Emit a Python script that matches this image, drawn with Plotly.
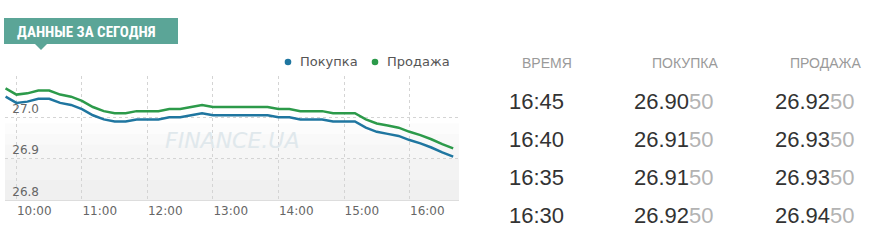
import plotly.graph_objects as go

W, H = 878, 243

# ---------------- data ----------------
times = ["09:50", "10:00", "10:10", "10:20", "10:30", "10:40", "10:50",
         "11:00", "11:10", "11:20", "11:30", "11:40", "11:50",
         "12:00", "12:10", "12:20", "12:30", "12:40", "12:50",
         "13:00", "13:10", "13:20", "13:30", "13:40", "13:50",
         "14:00", "14:10", "14:20", "14:30", "14:40", "14:50",
         "15:00", "15:10", "15:20", "15:30", "15:40", "15:50",
         "16:00", "16:10", "16:20", "16:30", "16:40"]
buy = [27.050, 27.035, 27.038, 27.045, 27.045, 27.035, 27.030,
       27.020, 27.005, 26.995, 26.990, 26.990, 26.995,
       26.995, 26.995, 27.000, 27.000, 27.005, 27.010,
       27.005, 27.005, 27.005, 27.005, 27.005, 27.005,
       27.000, 27.000, 26.995, 26.995, 26.995, 26.990,
       26.990, 26.990, 26.975, 26.965, 26.960, 26.955,
       26.945, 26.937, 26.927, 26.915, 26.905]
sell = [27.070, 27.055, 27.058, 27.065, 27.065, 27.055, 27.050,
        27.040, 27.025, 27.015, 27.010, 27.010, 27.015,
        27.015, 27.015, 27.020, 27.020, 27.025, 27.030,
        27.025, 27.025, 27.025, 27.025, 27.025, 27.025,
        27.020, 27.020, 27.015, 27.015, 27.015, 27.010,
        27.010, 27.010, 26.995, 26.985, 26.980, 26.975,
        26.965, 26.957, 26.947, 26.935, 26.925]

x_ticks = ["10:00", "11:00", "12:00", "13:00", "14:00", "15:00", "16:00"]
y_ticks = [26.8, 26.9, 27.0, 27.1]
y_ticktext = ["26.8", "26.9", "27.0", ""]

table_times = ["16:45", "16:40", "16:35", "16:30"]
table_buy = ["26.9050", "26.9150", "26.9150", "26.9250"]
table_sell = ["26.9250", "26.9350", "26.9350", "26.9450"]
headers = ["ВРЕМЯ", "ПОКУПКА", "ПРОДАЖА"]
series_names = ["Покупка", "Продажа"]
title_text = "ДАННЫЕ ЗА СЕГОДНЯ"
watermark = "FINANCE.UA"

DAY = "2024-01-01 "
xs = [DAY + t for t in times]

BLUE = "#1f76a0"
GREEN = "#2c9a4a"
TEAL = "#5ba597"


def px(x):
    return x / W


def py(y):
    return 1 - y / H


fig = go.Figure()

fig.add_trace(go.Scatter(x=xs, y=buy, mode="lines", name=series_names[0],
                         line=dict(color=BLUE, width=2.5), showlegend=False,
                         hoverinfo="skip"))
fig.add_trace(go.Scatter(x=xs, y=sell, mode="lines", name=series_names[1],
                         line=dict(color=GREEN, width=2.5), showlegend=False,
                         hoverinfo="skip"))

shapes = []
# background gradient bands (light gray toward the bottom)
bands = [(26.96, 26.985, "#fcfcfc"), (26.935, 26.96, "#f9f9f9"),
         (26.9, 26.935, "#f6f6f6"), (26.85, 26.9, "#f3f3f3"),
         (26.8, 26.85, "#f0f0f0")]
for y0, y1, c in bands:
    shapes.append(dict(type="rect", xref="x domain", yref="y", x0=0, x1=1,
                       y0=y0, y1=y1, fillcolor=c, line=dict(width=0),
                       layer="below"))
# title box
shapes.append(dict(type="rect", xref="paper", yref="paper",
                   x0=px(4), x1=px(178), y0=py(44), y1=py(18),
                   fillcolor=TEAL, line=dict(width=0)))
shapes.append(dict(type="path", xref="paper", yref="paper",
                   path=f"M {px(35)},{py(44)} L {px(47)},{py(44)} L {px(41)},{py(50)} Z",
                   fillcolor=TEAL, line=dict(width=0)))

# legend (dots + labels)
legend_items = [(series_names[0], BLUE, 288, 298), (series_names[1], GREEN, 375, 385)]
annotations = []
for name, col, dot_x, text_x in legend_items:
    shapes.append(dict(type="circle", xref="paper", yref="paper",
                       x0=px(dot_x - 3.3), x1=px(dot_x + 3.3),
                       y0=py(62 + 3.3), y1=py(62 - 3.3),
                       fillcolor=col, line=dict(width=0)))
    annotations.append(dict(xref="paper", yref="paper", x=px(text_x), y=py(62),
                            xanchor="left", yanchor="middle", showarrow=False,
                            text=name, font=dict(family="DejaVu Sans", size=13,
                                                 color="#555555")))

annotations.append(dict(xref="paper", yref="paper", x=px(15), y=py(31.5),
                        xanchor="left", yanchor="middle", showarrow=False,
                        text="<b>" + title_text + "</b>",
                        font=dict(family="Liberation Sans Narrow, Roboto Condensed, Roboto",
                                  size=15, color="white")))
annotations.append(dict(xref="paper", yref="paper", x=px(232), y=py(140),
                        xanchor="center", yanchor="middle", showarrow=False,
                        text=watermark,
                        font=dict(family="DejaVu Sans", size=22, color="#e0e8ec",
                                  style="italic")))

# table
header_cx = [546.5, 685, 825]
for h, cx in zip(headers, header_cx):
    annotations.append(dict(xref="paper", yref="paper", x=px(cx), y=py(63),
                            xanchor="center", yanchor="middle", showarrow=False,
                            text=h, font=dict(family="Liberation Sans", size=14,
                                              color="#9a9a9a")))
row_cy = [101.7, 139.5, 177.3, 215]
for t, b, s, cy in zip(table_times, table_buy, table_sell, row_cy):
    annotations.append(dict(xref="paper", yref="paper", x=px(507), y=py(cy),
                            xanchor="left", yanchor="middle", showarrow=False,
                            text=t, font=dict(family="Liberation Sans", size=22,
                                              color="#333333")))
    for val, lx in ((b, 632), (s, 773)):
        annotations.append(dict(
            xref="paper", yref="paper", x=px(lx), y=py(cy),
            xanchor="left", yanchor="middle", showarrow=False,
            text=val[:5] + "<span style='color:#b3b3b3'>" + val[5:] + "</span>",
            font=dict(family="Liberation Sans", size=22, color="#333333")))

fig.update_layout(
    width=W, height=H, autosize=False,
    margin=dict(l=0, r=0, t=0, b=0),
    paper_bgcolor="white", plot_bgcolor="white",
    shapes=shapes, annotations=annotations,
    showlegend=False,
    xaxis=dict(domain=[px(5), px(459)], type="date",
               range=[DAY + "09:49:30", DAY + "16:45:20"],
               tickvals=[DAY + t for t in x_ticks], ticktext=x_ticks,
               ticklabelposition="outside right",
               showgrid=True, gridcolor="#d4d4d4", griddash="3px,3px", gridwidth=1,
               showline=True, linecolor="#dddddd", linewidth=1,
               ticks="", zeroline=False, automargin=False,
               tickfont=dict(family="DejaVu Sans", size=12, color="#666666")),
    yaxis=dict(domain=[py(200), py(76)], range=[26.8, 27.1],
               tickvals=y_ticks, ticktext=y_ticktext,
               ticklabelposition="outside top", ticklabelstandoff=-35,
               showgrid=True, gridcolor="#d4d4d4", griddash="3px,3px", gridwidth=1,
               showline=False, ticks="", zeroline=False, automargin=False,
               tickfont=dict(family="DejaVu Sans", size=12, color="#666666")),
)

fig.write_html("out.html")
